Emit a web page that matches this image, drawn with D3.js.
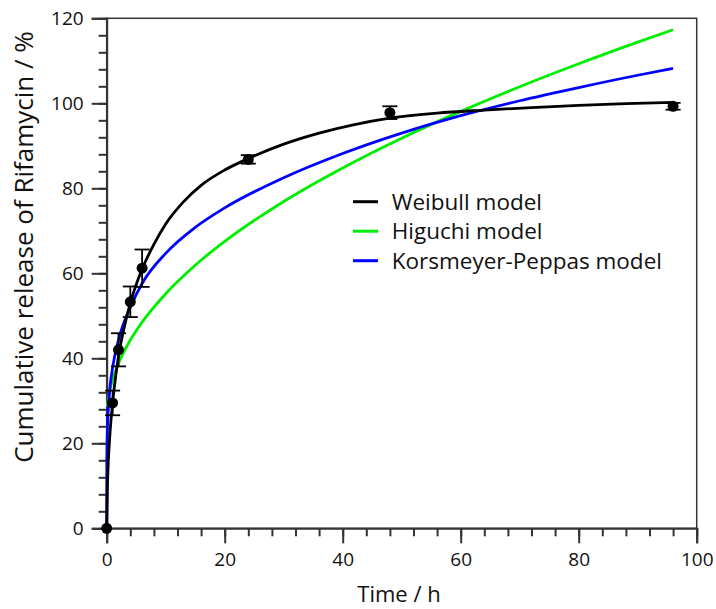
<!DOCTYPE html>
<html><head><meta charset="utf-8">
<script src="https://cdn.jsdelivr.net/npm/d3@7"></script>
<style>body{margin:0;background:#fff}svg{display:block}</style>
</head><body><svg id="c" width="716" height="609"></svg>
<script>
// measured data
const obsTime = [0, 1, 2, 4, 6, 24, 48, 96];
const obsRelease = [0, 29.5, 42, 53.3, 61.2, 86.8, 97.8, 99.3];
const obsError = [0, 2.9, 3.9, 3.6, 4.4, 1.0, 1.5, 0.8];

const weibullTime = [0, 0.1, 0.25, 0.5, 1, 1.5, 2, 3, 4, 6, 8, 10, 13, 16, 20, 24, 30, 36, 42, 48, 56, 64, 72, 80, 88, 96];
const weibullRelease = [0, 8.5, 15, 21.2, 29.5, 35.5, 40.5, 47.5, 53, 61, 66.8, 71.6, 76.8, 80.7, 84.3, 87, 90.4, 93.0, 95.0, 96.5, 97.7, 98.4, 99, 99.5, 99.9, 100.2];

const higuchiTime = [0.1, 0.5, 1, 2, 4, 6, 10, 15, 20, 30, 40, 50, 60, 70, 80, 90, 96];
const higuchiRelease = [28.6, 32.2, 35, 38.8, 44.3, 48.5, 55.2, 61.9, 67.5, 76.9, 84.8, 91.8, 98.1, 103.9, 109.3, 114.4, 117.3];

const kpTime = [0, 0.02, 0.1, 0.3, 0.5, 1, 2, 4, 6, 10, 15, 20, 30, 40, 50, 60, 70, 80, 90, 96];
const kpRelease = [0, 15.1, 22.3, 28.6, 32.4, 37.8, 44.3, 52, 57.6, 64.7, 70.8, 75.4, 82.5, 88.2, 93, 97.1, 100.6, 103.7, 106.6, 108.2];

const xTicks = [0, 20, 40, 60, 80, 100];
const yTicks = [0, 20, 40, 60, 80, 100, 120];
const legendNames = ["Weibull model", "Higuchi model", "Korsmeyer-Peppas model"];
const legendColors = ["#000000", "#00ee00", "#0000ff"];

const svg = d3.select("#c");
const L = 106.7, R = 696.7, T = 18.3, B = 528.3;
const x = d3.scaleLinear().domain([0, 100]).range([L, R]);
const y = d3.scaleLinear().domain([0, 120]).range([B, T]);
const font = "'Open Sans', sans-serif";
const axisColor = "#333";

// frame
svg.append("rect").attr("x", L).attr("y", T).attr("width", R - L).attr("height", B - T)
  .attr("fill", "none").attr("stroke", axisColor).attr("stroke-width", 1.5);

// axes
const xMinor = d3.range(0, 101, 4);
const yMinor = d3.range(0, 121, 4);
const gx = svg.append("g").attr("transform", `translate(0,${B})`);
gx.call(d3.axisBottom(x).tickValues(xMinor).tickSize(8).tickFormat(""));
gx.call(g => g.select(".domain").remove());
const gx2 = svg.append("g").attr("transform", `translate(0,${B})`)
  .call(d3.axisBottom(x).tickValues(xTicks).tickSize(15).tickPadding(9).tickFormat(d3.format("d")));
gx2.select(".domain").attr("stroke-width", 2);
const gy = svg.append("g").attr("transform", `translate(${L},0)`);
gy.call(d3.axisLeft(y).tickValues(yMinor).tickSize(8).tickFormat(""));
gy.call(g => g.select(".domain").remove());
const gy2 = svg.append("g").attr("transform", `translate(${L},0)`)
  .call(d3.axisLeft(y).tickValues(yTicks).tickSize(15).tickPadding(8).tickFormat(d3.format("d")));
gy2.select(".domain").attr("stroke-width", 2);
svg.selectAll(".tick line").attr("stroke", axisColor).attr("stroke-width", 2);
svg.selectAll(".domain").attr("stroke", axisColor);
svg.selectAll(".tick text").attr("font-family", font).attr("font-size", 19).attr("fill", "#111");

// titles
svg.append("text").attr("x", 399).attr("y", 602).attr("text-anchor", "middle")
  .attr("font-family", font).attr("font-size", 22).attr("fill", "#111").text("Time / h");
svg.append("text").attr("transform", `translate(33,247) rotate(-90)`).attr("text-anchor", "middle")
  .attr("font-family", font).attr("font-size", 26).attr("fill", "#111").text("Cumulative release of Rifamycin / %");

// curves
const line = d3.line().x(d => x(d[0])).y(d => y(d[1])).curve(d3.curveMonotoneX);
const curves = [
  [d3.zip(weibullTime, weibullRelease), legendColors[0]],
  [d3.zip(higuchiTime, higuchiRelease), legendColors[1]],
  [d3.zip(kpTime, kpRelease), legendColors[2]]
];
[curves[1], curves[2], curves[0]].forEach(([pts, col]) => {
  svg.append("path").attr("d", line(pts)).attr("fill", "none").attr("stroke", col).attr("stroke-width", 2.8);
});

// observations
const obs = d3.zip(obsTime, obsRelease, obsError);
const eg = svg.append("g");
obs.forEach(([t, v, e]) => {
  if (e > 0) {
    eg.append("line").attr("x1", x(t)).attr("x2", x(t)).attr("y1", y(v - e)).attr("y2", y(v + e)).attr("stroke", "#000").attr("stroke-width", 1.8);
    [v - e, v + e].forEach(c => eg.append("line").attr("x1", x(t) - 7.5).attr("x2", x(t) + 7.5).attr("y1", y(c)).attr("y2", y(c)).attr("stroke", "#000").attr("stroke-width", 1.8));
  }
  eg.append("circle").attr("cx", x(t)).attr("cy", y(v)).attr("r", 5.5).attr("fill", "#000");
});

// legend
const lg = svg.append("g");
legendNames.forEach((n, i) => {
  const yy = 201.7 + i * 29.5;
  lg.append("line").attr("x1", 353).attr("x2", 378).attr("y1", yy).attr("y2", yy).attr("stroke", legendColors[i]).attr("stroke-width", 3);
  lg.append("text").attr("x", 391.7).attr("y", yy + 8).attr("font-family", font).attr("font-size", 22.5).attr("fill", "#111").text(n);
});
</script></body></html>
